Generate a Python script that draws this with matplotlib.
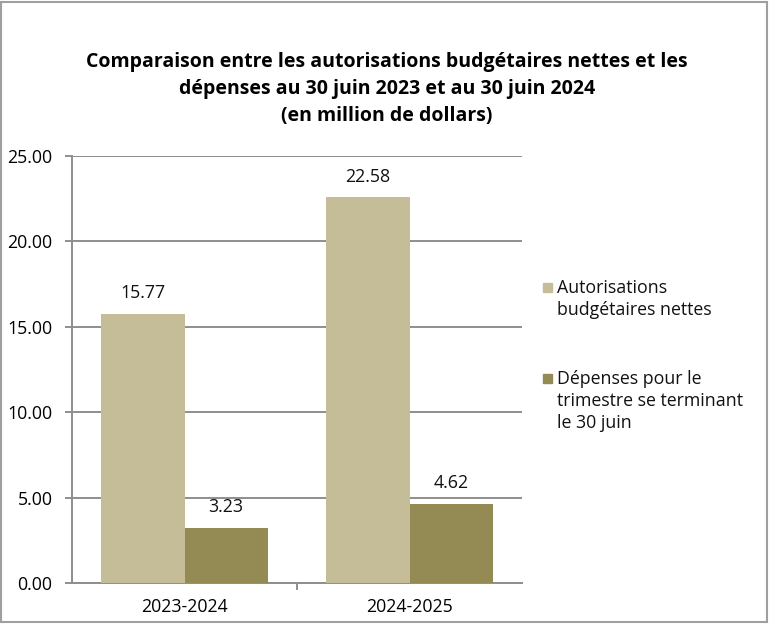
import numpy as np
import matplotlib
matplotlib.use("Agg")
from matplotlib import pyplot as plt
from matplotlib.patches import Rectangle

categories = ["2023-2024", "2024-2025"]
autorisations = [15.77, 22.58]
depenses = [3.23, 4.62]
series_names = ["Autorisations\nbudgétaires nettes",
                "Dépenses pour le\ntrimestre se terminant\nle 30 juin"]
title = ("Comparaison entre les autorisations budgétaires nettes et les\n"
         "dépenses au 30 juin 2023 et au 30 juin 2024\n"
         "(en million de dollars)")

plt.rcParams["font.family"] = ["Open Sans", "DejaVu Sans"]

c_light = "#C4BD97"
c_dark = "#948A54"
c_grid = "#8e8e8e"
fs = 12.8

fig = plt.figure(figsize=(7.74, 6.29), dpi=100)
ax = fig.add_axes([72 / 774, 1 - 583 / 629, 450 / 774, 427 / 629])

x = np.arange(len(categories))
w = 0.369
b1 = ax.bar(x - w / 2, autorisations, w, color=c_light, zorder=3)
b2 = ax.bar(x + w / 2, depenses, w, color=c_dark, zorder=3)

for bars, vals in ((b1, autorisations), (b2, depenses)):
    for rect, v in zip(bars, vals):
        ax.annotate("%.2f" % v, (rect.get_x() + rect.get_width() / 2, v),
                    xytext=(0, 15), textcoords="offset points",
                    ha="center", va="center", fontsize=fs, color="#111111")

ax.set_xlim(-0.5, 1.5)
ax.set_ylim(0, 25)
ax.set_yticks(np.arange(0, 25.1, 5))
ax.set_yticklabels(["%.2f" % t for t in np.arange(0, 25.1, 5)], fontsize=fs)
ax.yaxis.grid(True, color=c_grid, linewidth=1.4, zorder=0)
ax.set_axisbelow(True)

ax.set_xticks(x)
ax.set_xticklabels(categories, fontsize=fs)
ax.tick_params(axis="x", length=0, pad=11)
ax.set_xticks([0.5], minor=True)
ax.tick_params(axis="x", which="minor", length=5, color=c_grid, width=1.4)
ax.tick_params(axis="y", length=5, color=c_grid, width=1.4, pad=9)

for s in ("top", "right"):
    ax.spines[s].set_visible(False)
for s in ("left", "bottom"):
    ax.spines[s].set_color(c_grid)
    ax.spines[s].set_linewidth(1.4)

# legend, square next to the first line of each entry
leg_tops = [287, 378]
for name, col, yc in zip(series_names, [c_light, c_dark], leg_tops):
    fig.patches.append(Rectangle((543 / 774, 1 - (yc + 5) / 629), 9 / 774, 9 / 629,
                                 transform=fig.transFigure, color=col))
    fig.text(557 / 774, 1 - (yc - 8) / 629, name, ha="left", va="top",
             fontsize=fs, linespacing=1.3, color="#111111")

fig.text(0.5, 1 - 89 / 629, title, ha="center", va="center",
         fontsize=14, fontweight="bold", linespacing=1.5)

fig.patches.append(Rectangle((1 / 774, 1 - 622 / 629), 766 / 774, 620 / 629,
                             transform=fig.transFigure, fill=False,
                             edgecolor="#a0a0a0", linewidth=1.5))

fig.savefig("out.png", dpi=100)
